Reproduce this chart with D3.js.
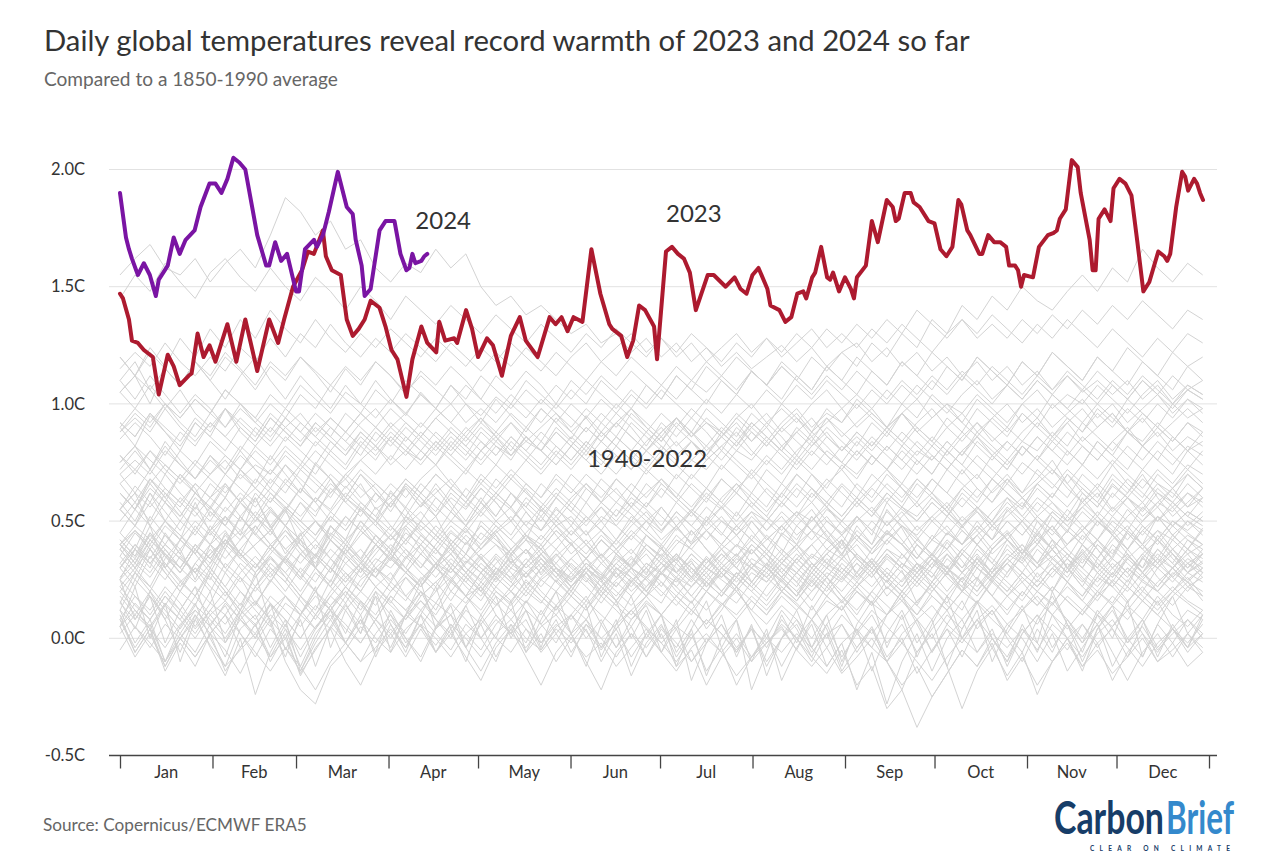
<!DOCTYPE html>
<html><head><meta charset="utf-8">
<script src="https://cdn.jsdelivr.net/npm/d3@7"></script>
<style>
body{margin:0;background:#fff}
svg{display:block}
text{font-family:Lato,'Noto Sans',sans-serif}
</style>
</head><body>
<svg id="chart" width="1280" height="859"></svg>
<script>
// ---------- DATA ----------
const months = ["Jan","Feb","Mar","Apr","May","Jun","Jul","Aug","Sep","Oct","Nov","Dec"];
const monthStarts = [0,31,59,90,120,151,181,212,243,273,304,334,365];
const yTicks = [-0.5,0,0.5,1,1.5,2];
const yTickLabels = ["-0.5C","0.0C","0.5C","1.0C","1.5C","2.0C"];

// 2023 (day of year, anomaly C)
const days2023 = [0,1,3,4,6,8,11,13,16,18,20,23,24,26,28,30,32,36,39,42,46,50,53,55,58,61,63,65,68,69,71,74,76,78,80,82,84,87,89,91,93,96,98,101,103,106,107,109,112,113,116,118,120,123,125,128,131,134,136,140,144,146,148,150,152,155,158,161,164,165,168,170,172,174,176,179,180,183,185,187,189,191,193,197,199,203,206,208,210,212,214,217,218,221,223,225,227,229,230,232,233,235,237,238,239,241,243,245,246,247,250,252,254,257,259,260,261,263,265,266,268,271,273,275,277,279,281,282,284,285,288,289,291,293,295,297,298,300,301,302,303,306,308,311,313,314,315,317,319,321,322,325,326,327,328,330,332,333,335,337,339,341,343,345,348,350,351,352,354,356,357,358,360,361,362,363];
const temps2023 = [1.47,1.45,1.36,1.27,1.26,1.23,1.20,1.04,1.21,1.16,1.08,1.12,1.13,1.30,1.20,1.25,1.18,1.34,1.18,1.36,1.14,1.36,1.26,1.36,1.50,1.57,1.65,1.64,1.74,1.63,1.57,1.55,1.36,1.29,1.32,1.36,1.44,1.41,1.33,1.23,1.19,1.03,1.19,1.33,1.26,1.22,1.35,1.27,1.28,1.26,1.40,1.32,1.20,1.28,1.25,1.12,1.29,1.37,1.27,1.20,1.37,1.34,1.37,1.31,1.37,1.35,1.66,1.47,1.34,1.32,1.29,1.20,1.27,1.42,1.40,1.33,1.19,1.65,1.67,1.64,1.62,1.56,1.40,1.55,1.55,1.50,1.54,1.49,1.47,1.55,1.58,1.49,1.42,1.40,1.35,1.37,1.47,1.48,1.45,1.54,1.56,1.67,1.54,1.53,1.56,1.48,1.54,1.49,1.45,1.54,1.59,1.78,1.69,1.87,1.84,1.78,1.79,1.90,1.90,1.86,1.84,1.78,1.77,1.66,1.63,1.67,1.87,1.85,1.74,1.72,1.64,1.64,1.72,1.69,1.69,1.67,1.59,1.59,1.57,1.50,1.55,1.54,1.67,1.72,1.73,1.74,1.79,1.83,2.04,2.01,1.90,1.70,1.57,1.57,1.79,1.83,1.78,1.92,1.96,1.94,1.89,1.69,1.48,1.52,1.65,1.63,1.61,1.64,1.84,1.99,1.97,1.91,1.96,1.94,1.90,1.87];

// 2024 so far
const days2024 = [0,2,3,4,6,8,10,12,13,16,18,20,22,25,27,30,32,34,36,38,40,42,46,49,50,52,54,56,59,60,62,65,66,68,70,73,76,78,79,81,82,84,87,89,92,94,96,97,98,99,101,102,103];
const temps2024 = [1.90,1.71,1.66,1.62,1.55,1.60,1.55,1.46,1.53,1.59,1.71,1.64,1.70,1.74,1.84,1.94,1.94,1.90,1.96,2.05,2.03,2.00,1.72,1.59,1.59,1.69,1.61,1.64,1.48,1.48,1.66,1.70,1.67,1.72,1.82,1.99,1.84,1.81,1.70,1.59,1.46,1.49,1.74,1.78,1.78,1.64,1.57,1.58,1.64,1.60,1.61,1.63,1.64];

const greyStepDays = 5.04;
const grey1940 = [.42,.35,.48,.30,.38,.25,.40,.52,.44,.60,.48,.36,.45,.30,.22,.35,.28,.40,.33,.47,.38,.30,.42,.36,.50,.44,.32,.38,.27,.35,.41,.30,.25,.36,.31,.44,.39,.28,.33,.22,.30,.26,.38,.31,.45,.40,.52,.43,.35,.48,.40,.55,.47,.36,.30,.41,.33,.25,.38,.45,.36,.50,.42,.30,.37,.28,.35,.46,.40,.52,.44,.38,.47];
const grey1941 = [.55,.62,.48,.58,.70,.64,.52,.60,.72,.66,.78,.70,.62,.74,.68,.58,.66,.55,.60,.50,.57,.64,.56,.48,.55,.62,.70,.63,.55,.48,.52,.44,.50,.58,.53,.46,.40,.48,.55,.50,.60,.66,.58,.52,.62,.70,.64,.56,.50,.58,.65,.72,.64,.56,.62,.54,.47,.55,.63,.70,.62,.68,.76,.66,.58,.64,.55,.62,.70,.60,.52,.58,.64];
const grey1942 = [.25,.38,.30,.45,.36,.28,.20,.32,.26,.15,.24,.35,.42,.30,.48,.40,.33,.44,.36,.52,.45,.38,.30,.41,.34,.27,.35,.22,.30,.38,.31,.25,.18,.29,.35,.27,.40,.33,.46,.38,.30,.36,.24,.32,.20,.28,.35,.30,.42,.26,.33,.21,.29,.15,.24,.31,.20,.35,.28,.40,.33,.45,.38,.30,.22,.34,.27,.38,.30,.44,.36,.28,.33];
const grey1943 = [.22,.30,.38,.28,.20,.32,.40,.46,.36,.28,.35,.26,.18,.10,.20,.28,.22,.32,.40,.34,.44,.38,.30,.24,.32,.26,.36,.42,.34,.28,.20,.30,.25,.16,.24,.32,.28,.36,.30,.22,.28,.35,.42,.36,.30,.24,.16,.26,.34,.28,.38,.45,.40,.32,.26,.36,.28,.22,.30,.38,.32,.24,.34,.40,.46,.38,.30,.36,.28,.20,.27,.34,.30];
const grey1944 = [.55,.48,.62,.50,.42,.58,.45,.38,.52,.60,.47,.55,.40,.35,.48,.42,.56,.50,.63,.55,.46,.52,.40,.47,.38,.45,.50,.42,.55,.48,.40,.46,.35,.42,.50,.44,.38,.47,.41,.52,.45,.39,.50,.43,.36,.48,.55,.46,.40,.52,.44,.58,.50,.43,.35,.45,.40,.50,.42,.55,.48,.40,.52,.45,.60,.52,.46,.38,.48,.42,.50,.45,.40];
const grey1945 = [.45,.38,.52,.44,.36,.48,.40,.30,.38,.46,.55,.48,.38,.30,.42,.35,.28,.36,.44,.38,.30,.40,.48,.42,.34,.28,.38,.45,.52,.44,.36,.42,.34,.26,.32,.40,.35,.28,.22,.30,.36,.30,.40,.34,.26,.20,.28,.36,.30,.24,.32,.42,.36,.28,.34,.26,.20,.30,.38,.45,.36,.30,.40,.34,.44,.38,.30,.24,.34,.42,.36,.30,.38];
const grey1946 = [.25,.08,.18,-.02,.12,.22,.05,-.08,.10,.00,.15,-.05,.08,-.12,.05,.15,.02,.20,.06,-.06,.10,.22,.04,-.10,.08,.18,.00,.12,-.04,.14,.02,-.12,.06,.16,.00,.12,-.06,.08,-.18,-.02,.10,-.08,.06,-.16,.00,.12,-.04,.10,-.10,.04,-.14,.02,.12,-.02,.08,-.12,.04,.16,.00,-.10,.06,-.06,.10,.00,-.14,.04,.14,-.02,.08,-.08,.06,-.04,.08];
const grey1947 = [.35,.28,.40,.32,.24,.18,.28,.20,.12,.22,.30,.24,.16,.08,.18,.26,.20,.30,.36,.28,.22,.32,.26,.18,.28,.34,.25,.32,.40,.30,.22,.28,.20,.14,.24,.30,.24,.18,.26,.34,.28,.20,.12,.22,.30,.24,.32,.26,.18,.10,.20,.28,.22,.30,.36,.28,.20,.26,.18,.28,.35,.26,.32,.24,.16,.26,.34,.28,.20,.30,.24,.32,.26];
const grey1948 = [.05,.22,.00,.15,-.10,.08,.20,-.02,.12,.28,.06,-.08,.10,.22,-.04,.12,.02,.18,-.06,.10,.24,.04,.14,-.04,.10,.00,.16,-.06,.08,.20,.02,.14,-.08,.06,.18,.00,.10,-.12,.04,.16,-.04,.08,-.22,-.06,.10,-.02,.14,.04,-.12,.06,.16,-.04,.10,-.08,.06,.18,.00,.12,-.10,.04,.14,-.02,.20,.06,-.06,.10,.00,.16,-.08,.06,.18,.02,.10];
const grey1949 = [.16,.04,.20,.08,-.06,.10,-.04,-.16,.00,-.24,-.06,.06,-.08,.04,.14,.02,.16,.06,-.04,.10,.20,.08,.00,.14,.22,.10,.02,.16,.06,-.02,.10,.18,.06,-.04,.08,.14,.00,.06,.16,.04,.12,.22,.10,.00,.12,.04,-.08,.06,.14,.02,-.04,.10,.18,.06,-.06,.06,.16,.04,.12,.02,-.06,.08,.18,.06,-.02,.12,.04,-.08,.06,.16,.04,-.04,.10];
const grey1950 = [.05,-.08,.02,-.12,.00,.10,.02,-.05,-.15,-.02,.08,-.10,-.22,-.28,-.12,-.05,.05,-.02,.08,.00,-.08,.05,.10,.02,-.05,.06,.12,.04,-.06,.02,.10,.03,-.05,.04,.12,.05,-.02,-.10,.00,.08,.02,-.06,.05,-.04,.08,.00,-.10,.02,.06,-.04,.05,-.08,.00,-.15,-.05,.04,-.02,.08,.00,-.10,.02,.10,.03,-.05,.06,-.04,.05,.12,.02,-.06,.04,-.02,.06];
const grey1951 = [.02,.10,.04,-.04,.06,.12,.05,-.02,.08,.15,.08,.18,.12,.04,.14,.20,.12,.22,.16,.08,.18,.24,.16,.26,.20,.14,.22,.28,.20,.14,.22,.30,.24,.18,.26,.20,.28,.34,.26,.20,.28,.22,.30,.36,.28,.22,.32,.26,.34,.40,.32,.26,.36,.30,.24,.34,.28,.38,.32,.26,.36,.42,.34,.28,.38,.30,.24,.34,.40,.32,.38,.30,.36];
const grey1952 = [.15,.28,.20,.32,.25,.18,.30,.22,.14,.26,.35,.28,.20,.30,.24,.38,.30,.22,.28,.18,.25,.32,.20,.28,.35,.26,.20,.15,.25,.30,.22,.28,.18,.25,.30,.20,.15,.26,.18,.12,.20,.28,.22,.16,.25,.18,.30,.24,.15,.22,.28,.18,.25,.32,.22,.15,.26,.20,.30,.24,.18,.28,.20,.32,.25,.18,.28,.22,.35,.26,.20,.28,.24];
const grey1953 = [.38,.30,.22,.34,.42,.36,.28,.40,.46,.38,.30,.24,.36,.42,.34,.26,.32,.40,.34,.28,.36,.30,.24,.32,.38,.44,.36,.30,.36,.28,.22,.30,.36,.28,.22,.30,.38,.32,.25,.34,.28,.22,.30,.26,.34,.40,.32,.26,.20,.28,.34,.26,.20,.28,.36,.30,.24,.32,.26,.34,.40,.32,.26,.34,.28,.22,.30,.36,.28,.34,.26,.32,.28];
const grey1954 = [.20,.12,.05,.15,.08,.18,.10,.02,.12,.05,.15,.08,.00,.10,.04,.14,.06,.18,.10,.02,.12,.05,.15,.08,.00,.10,.02,.08,-.05,.05,.10,.00,.08,-.04,.05,-.08,.02,-.12,-.05,-.20,-.08,.00,-.10,-.02,.05,-.05,.08,.00,.10,.03,.12,.05,-.02,.08,.00,.10,.04,.15,.08,.02,.12,.06,.15,.08,.00,.10,.05,.14,.08,.18,.10,.05,.12];
const grey1955 = [.12,.05,-.04,.06,.00,-.08,.02,.10,.02,-.06,-.14,-.04,-.12,-.22,-.10,-.02,-.10,-.04,.04,-.04,.06,.00,-.08,.02,.08,.00,-.06,.04,-.02,.06,.00,-.08,-.02,-.12,-.04,.04,-.06,-.14,-.04,.02,-.06,-.16,-.08,.00,-.06,.02,-.04,-.12,-.02,.04,-.04,-.10,-.02,-.10,-.18,-.08,.00,-.06,.02,-.04,.04,-.02,-.10,.00,.06,-.02,.04,-.04,-.12,-.02,.04,-.04,.02];
const grey1956 = [-.05,.05,-.02,-.10,.00,.08,-.03,-.12,-.05,.02,-.08,.00,-.15,-.05,.05,-.02,.08,.00,-.06,.04,.10,.02,-.05,.06,.00,.08,.02,-.04,.05,.10,.02,.08,.00,.06,.12,.04,-.02,.05,.00,.08,.02,-.05,.04,-.02,.06,.00,-.08,-.15,-.05,-.20,-.12,-.30,-.22,-.38,-.25,-.15,-.05,-.12,.00,-.08,.04,-.05,.06,.00,-.08,.02,.08,-.02,.05,-.05,.02,.08,.00];
const grey1957 = [.05,.12,.04,.14,.08,.00,.10,.16,.08,.02,.12,.18,.10,.20,.14,.22,.16,.10,.20,.26,.18,.24,.30,.22,.16,.26,.20,.28,.34,.26,.20,.30,.24,.32,.26,.20,.30,.36,.28,.34,.26,.32,.38,.30,.24,.34,.28,.36,.42,.34,.28,.36,.30,.40,.34,.28,.38,.44,.36,.42,.34,.40,.48,.38,.32,.42,.36,.46,.40,.34,.44,.38,.46];
const grey1958 = [.40,.32,.45,.35,.28,.38,.30,.42,.35,.48,.40,.32,.25,.35,.28,.40,.33,.26,.38,.30,.22,.32,.40,.30,.25,.35,.28,.20,.30,.36,.28,.34,.25,.32,.38,.30,.22,.32,.26,.35,.28,.22,.32,.26,.34,.28,.22,.30,.25,.32,.26,.34,.28,.22,.30,.36,.28,.34,.26,.32,.38,.30,.35,.28,.40,.32,.26,.35,.30,.38,.32,.25,.30];
const grey1959 = [.40,.34,.44,.36,.30,.40,.34,.28,.38,.32,.24,.34,.28,.36,.30,.22,.30,.26,.34,.28,.22,.30,.36,.28,.20,.28,.34,.26,.32,.24,.18,.28,.22,.30,.26,.20,.28,.34,.26,.20,.30,.24,.32,.26,.20,.28,.22,.30,.36,.28,.22,.30,.24,.32,.28,.20,.28,.34,.26,.32,.24,.30,.38,.30,.24,.32,.26,.34,.28,.22,.30,.36,.28];
const grey1960 = [.12,.25,.18,.08,.20,.14,.28,.20,.10,.22,.15,.05,.18,.12,.25,.18,.30,.22,.15,.26,.20,.12,.24,.18,.28,.20,.15,.25,.18,.12,.22,.16,.26,.20,.14,.22,.28,.20,.15,.24,.18,.26,.20,.14,.22,.16,.25,.18,.12,.20,.15,.25,.18,.10,.20,.28,.22,.15,.24,.18,.26,.20,.14,.24,.18,.28,.22,.15,.25,.20,.14,.22,.18];
const grey1961 = [.26,.34,.28,.38,.30,.24,.32,.40,.34,.28,.36,.44,.36,.30,.38,.32,.26,.34,.30,.38,.32,.26,.34,.28,.36,.30,.24,.32,.38,.30,.26,.34,.28,.22,.30,.36,.28,.24,.32,.26,.34,.40,.32,.28,.36,.30,.24,.32,.28,.36,.30,.24,.32,.26,.34,.30,.38,.32,.26,.34,.28,.22,.30,.36,.30,.24,.32,.26,.34,.30,.36,.28,.32];
const grey1962 = [.30,.22,.35,.28,.20,.30,.25,.38,.30,.22,.32,.26,.18,.28,.22,.15,.25,.30,.22,.16,.26,.20,.30,.24,.18,.28,.22,.32,.25,.20,.28,.22,.15,.24,.18,.26,.20,.14,.22,.28,.20,.15,.24,.18,.26,.20,.12,.22,.16,.24,.18,.10,.20,.14,.24,.18,.26,.20,.28,.22,.16,.25,.20,.30,.22,.16,.25,.20,.28,.22,.30,.24,.20];
const grey1963 = [.20,.28,.22,.14,.24,.30,.22,.16,.26,.20,.28,.34,.26,.20,.30,.24,.32,.26,.20,.28,.22,.30,.36,.28,.22,.30,.26,.34,.28,.36,.30,.24,.32,.38,.30,.26,.34,.28,.36,.30,.38,.32,.40,.34,.28,.36,.30,.38,.44,.36,.30,.38,.32,.26,.34,.28,.36,.30,.24,.32,.26,.20,.28,.34,.26,.20,.28,.22,.16,.24,.30,.22,.26];
const grey1964 = [.15,.08,.18,.10,.02,.12,.05,.15,.08,.00,.10,.04,-.05,.05,.12,.04,-.02,.08,.00,.10,.05,-.03,.06,.00,-.08,.02,.08,.00,-.05,.04,-.02,.06,.00,-.08,.02,-.04,.05,-.02,-.10,.00,-.06,.02,-.08,-.02,.04,-.05,-.12,-.04,-.15,-.08,.00,-.10,-.20,-.12,-.25,-.15,-.05,-.12,-.02,-.18,-.08,-.20,-.10,-.02,-.12,-.05,-.15,-.08,.00,-.10,-.05,.02,-.06];
const grey1965 = [.08,-.04,.06,-.10,.02,-.06,.06,.14,.02,-.08,.04,-.04,-.14,-.02,.08,-.02,-.10,.02,.10,-.02,.06,-.06,.02,-.08,-.18,-.04,.04,-.08,-.20,-.06,.02,-.10,-.22,-.06,.02,-.08,.04,-.04,.08,-.02,.06,-.06,.04,-.10,.00,.08,-.04,.06,-.08,.02,.10,-.02,.06,-.06,.04,.12,.00,.08,-.04,.06,.00,-.10,.02,-.14,-.04,.06,-.06,-.18,-.06,.02,-.08,.02,-.04];
const grey1966 = [.08,.18,.12,.22,.15,.05,.15,.10,.20,.14,.25,.18,.10,.20,.12,.22,.15,.08,.18,.12,.05,.15,.10,.18,.22,.15,.08,.16,.10,.20,.14,.08,.18,.12,.05,.15,.10,.18,.12,.20,.15,.08,.16,.10,.20,.14,.08,.18,.12,.22,.15,.10,.20,.14,.08,.18,.12,.25,.18,.10,.20,.14,.22,.16,.10,.20,.15,.25,.18,.12,.20,.15,.10];
const grey1967 = [.22,.14,.08,.18,.12,.04,.12,.20,.12,.06,.14,.08,.00,.10,.18,.12,.20,.14,.24,.18,.12,.20,.26,.18,.12,.22,.16,.24,.18,.12,.20,.14,.22,.16,.10,.18,.24,.16,.10,.20,.14,.22,.16,.10,.18,.12,.20,.26,.18,.12,.20,.14,.08,.16,.22,.14,.08,.16,.10,.18,.24,.16,.10,.18,.12,.20,.14,.22,.16,.10,.18,.24,.16];
const grey1968 = [.25,.18,.10,.20,.12,.22,.15,.28,.20,.12,.05,.15,.10,.18,.12,.20,.14,.08,.18,.12,.20,.15,.25,.18,.10,.20,.14,.22,.16,.10,.18,.12,.20,.14,.08,.16,.10,.18,.12,.06,.15,.10,.18,.12,.20,.15,.08,.16,.12,.20,.14,.22,.16,.10,.18,.12,.20,.15,.25,.18,.12,.20,.15,.22,.16,.10,.18,.12,.20,.15,.22,.16,.12];
const grey1969 = [.25,.32,.26,.36,.30,.40,.34,.42,.36,.30,.40,.46,.38,.32,.42,.36,.30,.38,.44,.36,.30,.38,.32,.26,.34,.40,.32,.26,.36,.30,.24,.32,.26,.34,.28,.22,.30,.36,.28,.22,.30,.36,.30,.24,.32,.38,.30,.36,.42,.34,.28,.36,.30,.40,.34,.28,.38,.32,.40,.46,.38,.32,.42,.36,.30,.40,.34,.28,.36,.42,.34,.28,.36];
const grey1970 = [.32,.25,.38,.30,.22,.32,.26,.18,.28,.35,.28,.20,.30,.24,.34,.28,.20,.30,.25,.35,.28,.22,.32,.26,.20,.30,.24,.18,.26,.32,.25,.30,.22,.28,.20,.26,.32,.25,.18,.26,.20,.28,.22,.30,.25,.18,.26,.20,.28,.22,.30,.24,.18,.26,.20,.28,.22,.32,.26,.20,.28,.22,.30,.24,.34,.28,.22,.30,.25,.32,.26,.20,.28];
const grey1971 = [.12,-.02,.08,-.10,.05,.15,.00,-.12,.04,.10,-.04,.08,-.14,.00,.12,-.02,.10,-.08,.06,-.04,.10,-.06,.04,.14,.00,-.10,.06,-.02,.12,.02,-.08,.06,-.04,.08,-.12,.02,.10,-.06,.04,-.16,.00,.08,-.10,.04,-.18,-.04,.06,-.12,-.02,-.22,-.06,-.28,-.10,.02,-.14,.00,.08,-.06,.04,-.12,.02,.10,-.04,.06,-.10,.04,.12,.00,-.08,.06,-.02,.08,.02];
const grey1972 = [.05,.15,.08,.18,.10,.02,.12,.06,.15,.08,.18,.12,.05,.14,.08,.18,.10,.20,.14,.08,.16,.10,.20,.15,.24,.18,.12,.20,.15,.25,.18,.12,.22,.16,.25,.18,.28,.22,.15,.24,.18,.28,.22,.30,.24,.18,.28,.22,.32,.26,.34,.28,.22,.32,.26,.36,.30,.40,.34,.28,.38,.32,.42,.36,.30,.40,.34,.45,.38,.32,.42,.36,.40];
const grey1973 = [.50,.58,.50,.62,.54,.46,.56,.48,.60,.52,.44,.54,.46,.38,.48,.42,.34,.44,.38,.30,.40,.34,.28,.36,.30,.24,.32,.38,.30,.24,.32,.26,.20,.30,.24,.18,.28,.22,.30,.24,.18,.26,.20,.28,.22,.16,.24,.18,.26,.20,.14,.22,.16,.24,.18,.12,.20,.26,.18,.12,.20,.14,.22,.16,.10,.18,.24,.16,.22,.14,.20,.26,.18];
const grey1974 = [.10,-.06,.04,-.14,-.02,-.12,.02,.10,-.04,.06,-.08,.04,-.12,.02,.10,-.02,.08,-.06,.12,.00,-.10,.04,.10,-.04,.06,-.08,.04,.12,-.02,.08,-.06,.04,-.10,.02,-.16,-.02,.06,-.08,.02,-.14,-.04,-.20,-.08,.02,-.12,.00,.08,-.04,.06,-.06,.04,-.10,.02,.08,-.06,.04,-.08,.06,.12,.00,-.10,.04,-.06,.08,-.02,.06,-.12,.00,.08,-.04,.04,-.06,.02];
const grey1975 = [.18,.10,.20,.12,.04,.14,.08,.00,.10,.16,.08,.00,.10,.04,.12,.06,-.02,.08,.02,.10,.16,.08,.02,.12,.06,.14,.20,.12,.06,.14,.08,.16,.10,.04,.12,.18,.10,.04,.12,.06,.14,.20,.12,.06,.14,.08,.00,.10,.16,.08,.02,.10,.16,.08,.14,.06,.00,.08,.14,.06,.12,.18,.10,.04,.12,.06,.14,.08,.16,.10,.04,.12,.08];
const grey1976 = [.08,-.06,.04,-.12,.00,-.08,.02,-.14,-.04,.06,-.10,.02,-.16,-.04,.04,-.10,-.20,-.06,.02,-.08,.04,-.06,.06,-.04,-.14,-.02,.06,-.06,.02,-.10,.00,.08,-.04,.04,-.08,.02,-.06,.04,-.10,-.02,.06,-.04,.04,-.12,.00,.06,-.06,.02,-.14,-.04,.04,-.10,-.22,-.06,.02,-.12,-.30,-.14,-.04,-.16,-.06,-.24,-.10,.00,-.12,-.02,-.18,-.06,.02,-.10,-.02,-.12,-.06];
const grey1977 = [.32,.40,.34,.44,.38,.46,.40,.34,.42,.48,.40,.34,.44,.50,.42,.36,.46,.40,.34,.42,.48,.42,.36,.44,.38,.46,.52,.44,.38,.46,.40,.34,.42,.36,.44,.38,.32,.40,.46,.38,.32,.40,.36,.44,.38,.32,.40,.46,.38,.44,.36,.42,.48,.40,.34,.42,.36,.44,.50,.42,.36,.44,.38,.46,.40,.34,.42,.48,.40,.46,.38,.44,.40];
const grey1978 = [.38,.30,.42,.35,.28,.38,.32,.45,.36,.30,.40,.33,.26,.36,.30,.40,.34,.28,.36,.30,.24,.32,.28,.36,.30,.25,.33,.28,.22,.30,.25,.32,.27,.22,.30,.25,.18,.26,.22,.30,.25,.20,.28,.24,.32,.26,.20,.28,.24,.32,.26,.35,.30,.24,.32,.27,.36,.30,.25,.34,.28,.38,.32,.26,.35,.30,.40,.34,.28,.36,.30,.38,.34];
const grey1979 = [.30,.38,.32,.40,.34,.28,.36,.42,.34,.40,.46,.38,.32,.40,.34,.42,.48,.40,.34,.42,.36,.44,.38,.32,.40,.46,.38,.44,.36,.42,.48,.40,.46,.38,.44,.50,.42,.48,.40,.46,.52,.44,.50,.42,.48,.54,.46,.52,.44,.50,.56,.48,.54,.46,.52,.58,.50,.56,.48,.54,.60,.52,.58,.50,.56,.62,.54,.60,.52,.58,.64,.56,.60];
const grey1980 = [.35,.45,.38,.30,.42,.36,.48,.40,.52,.44,.38,.46,.40,.34,.44,.38,.50,.42,.36,.45,.40,.48,.42,.36,.45,.40,.35,.42,.38,.46,.40,.34,.42,.36,.30,.40,.35,.44,.38,.32,.40,.35,.44,.38,.32,.40,.46,.38,.34,.42,.36,.45,.40,.34,.42,.38,.46,.40,.48,.42,.36,.44,.38,.46,.40,.50,.44,.38,.46,.40,.48,.42,.38];
const grey1981 = [.58,.50,.62,.54,.46,.56,.50,.60,.52,.44,.54,.48,.58,.50,.42,.52,.46,.56,.48,.40,.50,.44,.54,.48,.58,.50,.44,.54,.46,.52,.44,.50,.56,.48,.42,.50,.56,.48,.54,.46,.40,.48,.54,.46,.52,.44,.50,.56,.48,.42,.50,.44,.52,.58,.50,.44,.52,.46,.54,.60,.52,.46,.54,.48,.56,.50,.44,.52,.58,.50,.56,.48,.54];
const grey1982 = [.30,.40,.32,.25,.35,.28,.38,.30,.24,.32,.26,.35,.28,.20,.30,.24,.32,.26,.35,.28,.22,.30,.25,.33,.28,.22,.30,.26,.34,.28,.24,.32,.27,.35,.30,.25,.32,.28,.36,.30,.26,.34,.30,.38,.32,.28,.36,.32,.40,.35,.30,.38,.34,.42,.36,.45,.40,.48,.42,.50,.44,.52,.46,.55,.48,.42,.52,.46,.56,.50,.58,.52,.48];
const grey1983 = [.75,.82,.72,.84,.76,.68,.78,.70,.80,.72,.64,.74,.66,.58,.68,.60,.70,.62,.54,.64,.56,.66,.58,.50,.60,.52,.62,.54,.46,.56,.48,.58,.50,.42,.52,.46,.56,.48,.40,.50,.44,.54,.46,.38,.48,.42,.52,.44,.36,.46,.40,.50,.42,.34,.44,.38,.48,.40,.32,.42,.36,.46,.38,.30,.40,.34,.44,.36,.28,.38,.32,.42,.36];
const grey1984 = [.42,.35,.45,.38,.30,.40,.34,.44,.36,.30,.38,.32,.42,.35,.28,.38,.32,.40,.34,.28,.36,.30,.40,.34,.28,.36,.30,.38,.32,.26,.34,.28,.36,.30,.24,.32,.27,.35,.30,.24,.32,.26,.34,.30,.38,.32,.26,.34,.28,.36,.30,.24,.32,.28,.36,.30,.25,.34,.28,.36,.32,.40,.34,.28,.36,.30,.38,.32,.26,.34,.30,.38,.32];
const grey1985 = [.40,.32,.42,.36,.28,.38,.30,.22,.32,.26,.34,.28,.36,.30,.22,.32,.38,.30,.24,.34,.40,.32,.38,.30,.24,.32,.38,.30,.36,.28,.34,.40,.32,.26,.34,.28,.36,.30,.24,.32,.38,.30,.24,.32,.26,.34,.40,.32,.26,.34,.28,.36,.30,.24,.32,.38,.30,.36,.28,.34,.40,.32,.38,.30,.36,.42,.34,.28,.36,.30,.38,.32,.36];
const grey1986 = [.38,.46,.40,.50,.44,.36,.46,.40,.52,.45,.38,.48,.42,.35,.45,.40,.50,.44,.38,.48,.42,.36,.45,.40,.48,.42,.36,.44,.40,.48,.42,.36,.44,.38,.46,.40,.34,.42,.38,.46,.40,.48,.42,.36,.44,.38,.46,.42,.50,.44,.38,.46,.40,.48,.42,.52,.46,.40,.48,.42,.50,.44,.54,.48,.42,.50,.45,.55,.48,.42,.50,.46,.52];
const grey1987 = [.40,.46,.38,.48,.42,.50,.44,.52,.46,.54,.48,.56,.50,.44,.54,.48,.58,.52,.46,.56,.50,.60,.54,.48,.58,.52,.62,.56,.50,.60,.54,.64,.58,.52,.62,.56,.66,.60,.54,.64,.58,.52,.62,.56,.66,.60,.70,.62,.56,.66,.60,.70,.64,.58,.68,.62,.72,.64,.58,.68,.62,.72,.66,.60,.70,.64,.74,.66,.60,.70,.64,.72,.66];
const grey1988 = [.62,.55,.68,.60,.70,.62,.55,.65,.58,.68,.62,.55,.64,.58,.66,.60,.54,.62,.56,.65,.58,.52,.60,.55,.64,.58,.50,.58,.52,.60,.54,.48,.56,.50,.58,.52,.46,.54,.48,.56,.50,.44,.52,.46,.54,.48,.42,.50,.45,.52,.46,.40,.48,.44,.52,.46,.40,.48,.42,.50,.44,.52,.46,.40,.48,.42,.50,.45,.38,.46,.42,.50,.44];
const grey1989 = [.30,.38,.32,.40,.34,.28,.36,.42,.34,.40,.46,.38,.44,.50,.42,.36,.44,.50,.42,.48,.54,.46,.40,.48,.42,.50,.56,.48,.42,.50,.44,.52,.46,.40,.48,.54,.46,.52,.44,.50,.56,.48,.42,.50,.44,.52,.58,.50,.44,.52,.46,.54,.48,.42,.50,.56,.48,.54,.46,.52,.58,.50,.44,.52,.46,.54,.48,.42,.50,.56,.48,.54,.50];
const grey1990 = [.55,.65,.58,.70,.62,.55,.66,.60,.72,.64,.58,.68,.62,.75,.68,.60,.70,.64,.56,.66,.60,.52,.62,.56,.64,.58,.50,.60,.54,.62,.56,.50,.58,.52,.60,.55,.48,.58,.52,.60,.55,.62,.56,.50,.58,.52,.62,.56,.65,.58,.52,.62,.56,.66,.60,.54,.64,.58,.68,.62,.56,.66,.60,.70,.62,.56,.65,.60,.68,.62,.58,.66,.60];
const grey1991 = [.66,.58,.68,.62,.56,.66,.60,.70,.64,.58,.68,.62,.72,.66,.60,.70,.64,.58,.66,.60,.68,.74,.66,.60,.70,.64,.72,.66,.60,.68,.62,.70,.64,.58,.66,.60,.68,.62,.56,.64,.58,.66,.60,.54,.62,.56,.64,.58,.52,.60,.54,.62,.56,.50,.58,.52,.60,.54,.48,.56,.50,.58,.52,.46,.54,.48,.56,.50,.44,.52,.48,.54,.50];
const grey1992 = [.62,.55,.66,.58,.52,.62,.56,.50,.58,.52,.46,.55,.48,.42,.52,.46,.55,.48,.42,.50,.44,.38,.46,.40,.48,.42,.36,.44,.38,.32,.40,.34,.42,.36,.30,.38,.32,.26,.34,.28,.36,.30,.24,.32,.26,.34,.28,.22,.30,.25,.32,.26,.20,.28,.22,.30,.24,.18,.26,.20,.28,.22,.30,.24,.18,.26,.22,.30,.24,.20,.28,.24,.30];
const grey1993 = [.40,.48,.42,.50,.44,.38,.46,.52,.44,.50,.56,.48,.42,.50,.44,.52,.46,.40,.48,.42,.50,.44,.38,.46,.40,.48,.42,.36,.44,.38,.46,.40,.34,.42,.36,.44,.38,.32,.40,.46,.38,.44,.36,.42,.48,.40,.34,.42,.36,.44,.38,.46,.40,.34,.42,.48,.40,.46,.38,.44,.50,.42,.48,.40,.46,.52,.44,.38,.46,.52,.44,.50,.46];
const grey1994 = [.45,.55,.48,.40,.50,.44,.54,.48,.42,.52,.46,.56,.50,.44,.52,.46,.55,.50,.44,.52,.48,.42,.50,.45,.54,.48,.42,.50,.46,.55,.50,.44,.52,.48,.56,.50,.45,.54,.48,.42,.50,.46,.54,.50,.58,.52,.46,.55,.50,.58,.52,.60,.55,.50,.58,.52,.62,.56,.50,.60,.55,.64,.58,.52,.62,.56,.66,.60,.55,.64,.58,.52,.60];
const grey1995 = [.72,.80,.72,.82,.74,.68,.76,.70,.78,.72,.66,.74,.68,.62,.70,.64,.72,.66,.60,.68,.62,.70,.64,.58,.66,.60,.68,.62,.56,.64,.58,.66,.60,.68,.62,.56,.64,.58,.66,.60,.68,.62,.56,.64,.58,.66,.60,.68,.62,.56,.64,.58,.66,.60,.68,.62,.56,.64,.58,.66,.60,.54,.62,.56,.64,.58,.52,.60,.54,.62,.56,.62,.58];
const grey1996 = [.62,.55,.68,.60,.52,.62,.56,.66,.58,.50,.60,.54,.64,.58,.50,.60,.55,.48,.58,.52,.62,.56,.50,.58,.52,.60,.55,.48,.56,.50,.58,.52,.46,.55,.50,.58,.52,.46,.54,.48,.56,.50,.58,.52,.46,.54,.50,.58,.52,.60,.54,.48,.56,.52,.60,.54,.48,.56,.50,.58,.52,.60,.55,.50,.58,.52,.62,.56,.50,.58,.54,.62,.56];
const grey1997 = [.55,.62,.56,.64,.58,.52,.60,.66,.58,.64,.58,.66,.60,.54,.62,.68,.60,.66,.60,.68,.62,.70,.64,.72,.66,.74,.68,.76,.70,.78,.72,.80,.74,.82,.76,.70,.78,.84,.76,.82,.76,.84,.78,.86,.80,.74,.82,.88,.80,.86,.80,.88,.82,.90,.84,.78,.86,.92,.84,.90,.84,.92,.86,.94,.88,.96,.90,.98,.92,1.00,.94,1.02,.96];
const grey1998 = [1.05,1.12,1.00,1.15,1.08,1.18,1.10,1.02,1.12,1.20,1.10,1.02,1.12,1.05,.98,1.08,1.00,1.10,1.02,.95,1.05,.98,1.08,1.00,.92,1.02,.95,.88,.98,.92,.85,.95,.88,.96,.90,.82,.92,.86,.94,.88,.80,.90,.84,.92,.86,.78,.88,.82,.75,.84,.78,.72,.80,.74,.82,.76,.70,.78,.72,.66,.75,.70,.64,.72,.66,.60,.70,.64,.58,.66,.62,.56,.64];
const grey1999 = [.70,.62,.72,.64,.58,.66,.60,.54,.62,.56,.64,.58,.52,.60,.54,.62,.56,.50,.58,.64,.56,.62,.68,.60,.54,.62,.56,.64,.58,.52,.60,.66,.58,.64,.56,.62,.68,.60,.54,.62,.56,.64,.70,.62,.56,.64,.58,.66,.72,.64,.58,.66,.60,.68,.62,.56,.64,.70,.62,.68,.60,.66,.72,.64,.58,.66,.60,.68,.62,.56,.64,.70,.64];
const grey2000 = [.55,.48,.58,.50,.60,.54,.46,.56,.50,.62,.55,.48,.58,.52,.64,.58,.52,.62,.56,.66,.60,.54,.64,.58,.68,.62,.56,.66,.60,.70,.64,.58,.68,.62,.56,.66,.60,.70,.64,.58,.68,.62,.72,.66,.60,.70,.64,.58,.66,.60,.70,.64,.58,.68,.62,.72,.66,.60,.68,.62,.56,.66,.60,.70,.64,.58,.68,.62,.72,.66,.60,.70,.64];
const grey2001 = [.70,.76,.70,.80,.74,.68,.78,.72,.82,.76,.70,.80,.74,.84,.78,.72,.82,.76,.86,.80,.74,.82,.76,.70,.80,.74,.84,.78,.72,.80,.74,.82,.76,.70,.78,.72,.80,.74,.68,.76,.82,.76,.70,.78,.72,.80,.86,.78,.72,.80,.74,.82,.76,.84,.78,.72,.80,.86,.78,.84,.78,.86,.80,.88,.82,.76,.84,.90,.82,.88,.80,.86,.82];
const grey2002 = [.90,.82,.95,.88,.80,.92,.86,.98,.90,.84,.94,.88,.82,.92,.86,.96,.90,.84,.92,.86,.80,.88,.82,.90,.84,.78,.86,.80,.88,.82,.76,.84,.78,.86,.80,.74,.82,.76,.84,.78,.72,.80,.76,.84,.78,.72,.80,.74,.82,.76,.84,.78,.72,.80,.76,.84,.78,.88,.82,.76,.84,.80,.88,.82,.92,.86,.80,.88,.84,.92,.86,.80,.88];
const grey2003 = [.92,.86,.96,.88,.82,.92,.86,.80,.90,.84,.94,.88,.82,.90,.84,.78,.86,.80,.88,.82,.76,.84,.78,.86,.80,.88,.82,.76,.84,.78,.86,.80,.88,.82,.76,.84,.90,.82,.88,.80,.86,.92,.84,.90,.82,.88,.94,.86,.80,.88,.82,.90,.96,.88,.82,.90,.84,.92,.86,.80,.88,.94,.86,.92,.84,.90,.96,.88,.82,.90,.84,.92,.88];
const grey2004 = [.85,.92,.86,.78,.88,.82,.92,.86,.80,.90,.84,.94,.88,.82,.90,.84,.78,.88,.82,.90,.84,.78,.86,.80,.74,.82,.78,.86,.80,.74,.82,.76,.70,.78,.72,.80,.74,.68,.76,.72,.80,.74,.68,.76,.70,.78,.72,.80,.75,.70,.78,.72,.82,.76,.70,.80,.74,.84,.78,.72,.82,.76,.86,.80,.74,.84,.78,.88,.82,.76,.86,.80,.84];
const grey2005 = [.88,.96,.90,1.00,.92,.86,.96,.90,1.00,.94,.88,.98,.92,.86,.94,.88,.96,.90,.84,.92,.86,.94,.88,.82,.90,.84,.92,.86,.80,.88,.82,.90,.84,.92,.86,.80,.88,.94,.86,.92,.86,.94,.88,.82,.90,.96,.88,.94,.86,.92,.98,.90,.96,.88,.94,1.00,.92,.86,.94,.88,.96,.90,.84,.92,.98,.90,.96,.88,.94,.86,.92,.98,.92];
const grey2006 = [.75,.82,.76,.70,.80,.74,.84,.78,.72,.82,.76,.86,.80,.74,.84,.78,.88,.82,.76,.86,.80,.74,.84,.78,.88,.82,.76,.86,.80,.90,.84,.78,.88,.82,.92,.86,.80,.90,.84,.78,.88,.82,.92,.86,.80,.90,.84,.94,.88,.82,.92,.86,.96,.90,.84,.94,.88,.98,.92,.86,.96,.90,1.00,.94,.88,.98,.92,1.02,.96,.90,1.00,.94,.98];
const grey2007 = [1.10,1.18,1.06,.98,1.06,.96,.90,.98,.88,.82,.90,.84,.92,.86,.80,.88,.82,.90,.84,.78,.86,.80,.88,.82,.76,.84,.78,.86,.80,.74,.82,.76,.84,.78,.72,.80,.86,.78,.84,.76,.82,.88,.80,.74,.82,.76,.84,.78,.72,.80,.74,.82,.76,.70,.78,.72,.80,.74,.68,.76,.70,.78,.72,.66,.74,.68,.76,.70,.64,.72,.66,.74,.70];
const grey2008 = [.62,.55,.64,.58,.50,.60,.54,.48,.58,.52,.62,.56,.50,.60,.55,.65,.58,.52,.62,.56,.66,.60,.54,.64,.58,.68,.62,.56,.66,.60,.70,.64,.58,.68,.62,.72,.66,.60,.70,.64,.74,.68,.62,.72,.66,.76,.70,.64,.74,.68,.78,.72,.66,.76,.70,.80,.74,.68,.78,.72,.82,.76,.70,.80,.74,.84,.78,.72,.82,.76,.70,.80,.74];
const grey2009 = [.66,.72,.66,.74,.68,.62,.70,.76,.68,.74,.70,.78,.72,.80,.74,.68,.76,.82,.74,.80,.76,.84,.78,.72,.80,.86,.78,.84,.80,.88,.82,.90,.84,.92,.86,.80,.88,.94,.86,.92,.88,.96,.90,.84,.92,.98,.90,.96,.92,1.00,.94,.88,.96,1.02,.94,1.00,.96,1.04,.98,.92,1.00,1.06,.98,1.04,1.00,1.08,1.02,.96,1.04,1.10,1.02,1.08,1.04];
const grey2010 = [1.05,1.12,1.06,1.15,1.08,1.18,1.12,1.22,1.15,1.08,1.18,1.12,1.20,1.14,1.08,1.16,1.10,1.18,1.12,1.05,1.12,1.06,1.00,1.08,1.02,.96,1.04,.98,.92,1.00,.94,.88,.96,.90,.98,.92,.86,.94,.88,.82,.90,.84,.92,.86,.80,.88,.82,.90,.84,.78,.86,.80,.88,.82,.76,.84,.78,.86,.80,.74,.82,.76,.84,.78,.86,.80,.74,.82,.76,.84,.78,.72,.80];
const grey2011 = [.78,.70,.80,.72,.66,.74,.68,.62,.70,.64,.72,.66,.74,.68,.62,.70,.76,.70,.78,.72,.80,.74,.82,.76,.84,.78,.86,.80,.74,.82,.76,.84,.78,.86,.80,.88,.82,.76,.84,.78,.86,.80,.88,.82,.90,.84,.78,.86,.80,.88,.82,.90,.84,.78,.86,.80,.88,.82,.76,.84,.78,.86,.80,.74,.82,.76,.84,.78,.72,.80,.74,.82,.78];
const grey2012 = [.78,.72,.80,.74,.68,.76,.70,.78,.72,.80,.74,.82,.76,.70,.80,.74,.84,.78,.86,.80,.88,.82,.90,.84,.92,.86,.80,.90,.84,.94,.88,.82,.92,.86,.96,.90,.84,.94,.88,.98,.92,.86,.96,.90,1.00,.94,.88,.98,.92,1.02,.96,.90,1.00,.94,1.04,.98,.92,1.02,.96,.90,1.00,.94,1.04,.98,.92,1.00,.94,.88,.96,.90,.84,.92,.86];
const grey2013 = [.92,.86,.96,.90,.84,.94,.88,.98,.92,.86,.96,.90,.84,.92,.86,.80,.88,.82,.90,.84,.92,.86,.80,.88,.94,.86,.92,.84,.90,.96,.88,.94,.86,.92,.98,.90,.84,.92,.86,.94,.88,.82,.90,.96,.88,.94,.86,.92,.98,.90,.96,.90,.84,.92,.98,.90,.96,.88,.94,1.00,.92,.98,.90,.96,1.02,.94,1.00,.92,.98,1.04,.96,1.02,.98];
const grey2014 = [.88,.94,.88,.98,.90,.84,.92,.86,.94,.88,.82,.90,.96,.88,.94,.88,.96,.90,.98,.92,.86,.94,1.00,.92,.98,.92,1.00,.94,1.02,.96,.90,.98,.92,1.00,.94,.88,.96,.90,.98,.92,.86,.94,1.00,.92,.98,.92,1.00,1.06,.98,1.04,.98,1.06,1.00,1.08,1.02,.96,1.04,1.10,1.02,1.08,1.02,1.10,1.04,.98,1.06,1.00,1.08,1.02,1.10,1.04,.98,1.06,1.02];
const grey2015 = [.90,.98,.92,1.00,.94,1.02,.96,1.06,1.00,.94,1.04,.98,1.08,1.02,.96,1.05,1.00,.94,1.02,.96,1.04,.98,.92,1.00,.95,1.03,.98,1.06,1.00,1.08,1.02,1.10,1.04,.98,1.06,1.00,1.08,1.02,1.10,1.05,1.12,1.06,1.14,1.08,1.16,1.10,1.20,1.14,1.22,1.16,1.26,1.20,1.30,1.24,1.36,1.30,1.42,1.36,1.46,1.40,1.50,1.44,1.40,1.48,1.55,1.48,1.58,1.52,1.66,1.58,1.52,1.60,1.55];
const grey2016 = [1.55,1.62,1.68,1.58,1.55,1.62,1.52,1.60,1.66,1.58,1.72,1.88,1.82,1.72,1.78,1.66,1.70,1.58,1.52,1.60,1.56,1.66,1.58,1.64,1.50,1.42,1.46,1.38,1.42,1.36,1.30,1.34,1.26,1.30,1.22,1.28,1.20,1.26,1.18,1.24,1.16,1.22,1.15,1.20,1.25,1.18,1.24,1.16,1.22,1.26,1.18,1.24,1.16,1.22,1.14,1.20,1.12,1.18,1.10,1.16,1.08,1.14,1.06,1.12,1.05,1.10,1.04,1.10,1.02,1.08,1.00,1.06,1.02];
const grey2017 = [1.20,1.12,1.24,1.16,1.28,1.20,1.32,1.24,1.36,1.28,1.40,1.32,1.26,1.36,1.28,1.22,1.30,1.24,1.32,1.26,1.20,1.28,1.22,1.16,1.24,1.18,1.26,1.20,1.14,1.22,1.16,1.10,1.18,1.12,1.20,1.14,1.08,1.16,1.10,1.18,1.12,1.20,1.14,1.08,1.16,1.10,1.04,1.12,1.06,1.14,1.08,1.02,1.10,1.04,1.12,1.06,1.14,1.08,1.16,1.10,1.04,1.12,1.06,1.14,1.08,1.02,1.10,1.04,1.12,1.06,1.00,1.08,1.04];
const grey2018 = [1.05,.98,1.08,1.00,.94,1.02,.96,1.06,1.00,.92,1.00,.94,1.04,.98,1.08,1.02,.96,1.06,1.00,1.10,1.04,.98,1.08,1.02,1.12,1.06,1.00,1.10,1.04,.98,1.06,1.00,1.10,1.04,.98,1.08,1.02,1.12,1.06,1.00,1.10,1.04,1.14,1.08,1.02,1.12,1.06,1.16,1.10,1.04,1.14,1.08,1.18,1.12,1.06,1.16,1.10,1.20,1.14,1.08,1.18,1.12,1.22,1.16,1.10,1.20,1.14,1.24,1.18,1.12,1.22,1.16,1.20];
const grey2019 = [1.15,1.22,1.16,1.26,1.18,1.12,1.20,1.14,1.24,1.18,1.28,1.20,1.30,1.24,1.34,1.26,1.20,1.28,1.22,1.30,1.24,1.18,1.26,1.20,1.14,1.22,1.16,1.24,1.18,1.12,1.20,1.26,1.18,1.24,1.30,1.22,1.28,1.20,1.26,1.18,1.24,1.30,1.22,1.28,1.20,1.26,1.32,1.24,1.30,1.24,1.32,1.26,1.34,1.28,1.22,1.30,1.36,1.28,1.34,1.28,1.36,1.30,1.38,1.32,1.40,1.34,1.42,1.36,1.44,1.38,1.32,1.40,1.36];
const grey2020 = [1.45,1.55,1.48,1.60,1.52,1.45,1.56,1.62,1.54,1.48,1.58,1.50,1.44,1.54,1.48,1.40,1.50,1.44,1.36,1.46,1.40,1.34,1.42,1.36,1.30,1.38,1.32,1.26,1.34,1.28,1.22,1.30,1.24,1.32,1.26,1.20,1.28,1.22,1.30,1.24,1.18,1.26,1.20,1.28,1.22,1.30,1.24,1.32,1.26,1.34,1.28,1.36,1.30,1.40,1.34,1.28,1.36,1.30,1.38,1.32,1.26,1.34,1.28,1.36,1.30,1.24,1.32,1.26,1.20,1.28,1.22,1.30,1.26];
const grey2021 = [1.10,1.02,1.12,1.04,.96,1.04,.98,.90,.98,.92,.86,.94,.88,.96,.90,.84,.92,.98,.90,.96,.90,.98,.92,.86,.94,.88,.96,.90,.98,.92,1.00,.94,1.02,.96,1.04,.98,1.06,1.00,.94,1.02,.96,1.04,.98,1.06,1.00,1.08,1.02,1.10,1.04,.98,1.06,1.00,1.08,1.02,1.10,1.04,1.12,1.06,1.00,1.08,1.02,1.10,1.04,1.12,1.06,1.14,1.08,1.02,1.10,1.04,1.12,1.06,1.10];
const grey2022 = [1.20,1.12,1.22,1.15,1.08,1.18,1.10,1.20,1.14,1.06,1.16,1.10,1.20,1.13,1.05,1.15,1.08,1.18,1.12,1.04,1.14,1.08,1.16,1.10,1.02,1.12,1.06,1.14,1.08,1.00,1.10,1.04,1.12,1.06,1.14,1.08,1.02,1.12,1.06,1.16,1.10,1.04,1.14,1.08,1.18,1.12,1.06,1.16,1.10,1.20,1.14,1.08,1.18,1.12,1.22,1.16,1.10,1.20,1.14,1.08,1.18,1.12,1.22,1.16,1.10,1.20,1.14,1.08,1.18,1.12,1.06,1.16,1.10];

const greyLines = [grey1940,grey1941,grey1942,grey1943,grey1944,grey1945,grey1946,grey1947,grey1948,grey1949,
  grey1950,grey1951,grey1952,grey1953,grey1954,grey1955,grey1956,grey1957,grey1958,grey1959,
  grey1960,grey1961,grey1962,grey1963,grey1964,grey1965,grey1966,grey1967,grey1968,grey1969,
  grey1970,grey1971,grey1972,grey1973,grey1974,grey1975,grey1976,grey1977,grey1978,grey1979,
  grey1980,grey1981,grey1982,grey1983,grey1984,grey1985,grey1986,grey1987,grey1988,grey1989,
  grey1990,grey1991,grey1992,grey1993,grey1994,grey1995,grey1996,grey1997,grey1998,grey1999,
  grey2000,grey2001,grey2002,grey2003,grey2004,grey2005,grey2006,grey2007,grey2008,grey2009,
  grey2010,grey2011,grey2012,grey2013,grey2014,grey2015,grey2016,grey2017,grey2018,grey2019,
  grey2020,grey2021,grey2022];

// ---------- CHART ----------
const svg = d3.select("#chart");
svg.append("rect").attr("width",1280).attr("height",859).attr("fill","#fff");

const x = d3.scaleLinear().domain([0,365]).range([120,1209]);
const y = d3.scaleLinear().domain([-0.5,2]).range([755.5,169.5]);

function fit(sel, w){
  const L = sel.node().getComputedTextLength();
  const fs = parseFloat(sel.attr("font-size"));
  sel.attr("font-size", fs*w/L);
}

// title etc.
fit(svg.append("text").attr("x",44).attr("y",51).attr("font-size",26).attr("fill","#333")
  .text("Daily global temperatures reveal record warmth of 2023 and 2024 so far"), 926);
fit(svg.append("text").attr("x",44).attr("y",86).attr("font-size",19).attr("fill","#666")
  .text("Compared to a 1850-1990 average"), 294);
fit(svg.append("text").attr("x",43).attr("y",831).attr("font-size",18).attr("fill","#666")
  .text("Source: Copernicus/ECMWF ERA5"), 264);

// gridlines
svg.append("g").selectAll("line").data(yTicks.filter(d=>d>-0.5)).join("line")
  .attr("x1",109).attr("x2",1217)
  .attr("y1",d=>y(d)).attr("y2",d=>y(d))
  .attr("stroke","#e2e2e2").attr("stroke-width",1);

// y labels
svg.append("g").selectAll("text").data(yTicks).join("text")
  .attr("x",85).attr("y",d=>y(d)).attr("dy","0.35em")
  .attr("text-anchor","end").attr("font-size",16.5).attr("fill","#333")
  .text((d,i)=>yTickLabels[i]);

// grey lines
const line = d3.line().x(d=>x(d[0])).y(d=>y(d[1]));
svg.append("g").selectAll("path").data(greyLines).join("path")
  .attr("d",arr=>line(arr.map((v,i)=>[i*greyStepDays, v])))
  .attr("fill","none").attr("stroke","#d3d3d3").attr("stroke-width",1);

// x axis
const xAxis = d3.axisBottom(x).tickValues(monthStarts).tickSize(13).tickSizeOuter(0).tickFormat("");
const gx = svg.append("g").attr("transform","translate(0,755.5)").call(xAxis);
gx.select(".domain").remove();
gx.selectAll(".tick line").attr("stroke","#444").attr("stroke-width",1.3);
svg.append("line").attr("x1",109).attr("x2",1217).attr("y1",755.5).attr("y2",755.5)
  .attr("stroke","#444").attr("stroke-width",1.5);
svg.append("g").selectAll("text").data(months).join("text")
  .attr("x",(d,i)=>x((monthStarts[i]+monthStarts[i+1])/2)).attr("y",778)
  .attr("text-anchor","middle").attr("font-size",16.5).attr("fill","#333").text(d=>d);

// 2023 and 2024
const pts2023 = days2023.map((d,i)=>[d,temps2023[i]]);
const pts2024 = days2024.map((d,i)=>[d,temps2024[i]]);
svg.append("path").attr("d",line(pts2023)).attr("fill","none")
  .attr("stroke","#ad1a2f").attr("stroke-width",4).attr("stroke-linejoin","round").attr("stroke-linecap","round");
svg.append("path").attr("d",line(pts2024)).attr("fill","none")
  .attr("stroke","#7a14a3").attr("stroke-width",4).attr("stroke-linejoin","round").attr("stroke-linecap","round");

// annotations
svg.append("text").attr("x",x(99)).attr("y",y(1.745)).attr("font-size",24).attr("fill","#333").text("2024");
svg.append("text").attr("x",x(183)).attr("y",y(1.778)).attr("font-size",24).attr("fill","#333").text("2023");
svg.append("text").attr("x",x(156.5)).attr("y",y(0.73)).attr("font-size",24).attr("fill","#333").text("1940-2022");

// logo (horizontally scaled so the real glyph boxes match the target widths)
function logoWord(txt, x0, w, color){
  const g = svg.append("g");
  const t = g.append("text").attr("x",0).attr("y",0).attr("font-size",45).attr("font-weight",700)
    .attr("font-family","'Liberation Sans Narrow','Roboto',sans-serif").attr("fill",color).text(txt);
  const L = t.node().getComputedTextLength();
  g.attr("transform",`translate(${x0},834) scale(${w/L},1)`);
}
logoWord("Carbon",1054,110,"#173d68");
logoWord("Brief",1166,68,"#3489cc");
svg.append("text").attr("x",1090).attr("y",851).attr("font-size",6.5).attr("font-weight",700)
  .attr("font-family","'Liberation Sans','Roboto',sans-serif").attr("fill","#173d68")
  .attr("textLength",140).attr("lengthAdjust","spacing").text("CLEAR ON CLIMATE");
</script>
</body></html>
